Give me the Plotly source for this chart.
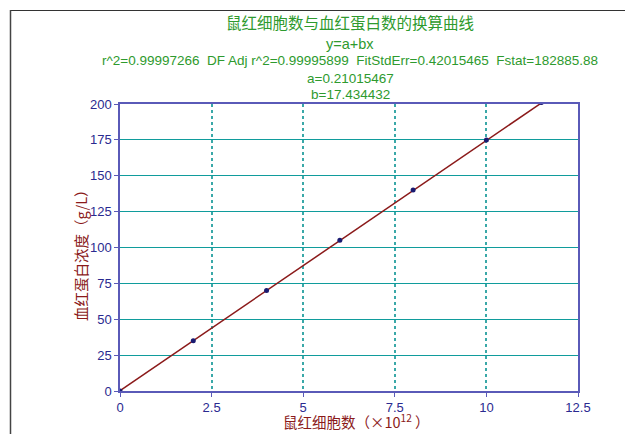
import plotly.graph_objects as go

# data
cells = [0, 2, 4, 6, 8, 10, 11.5]
hemoglobin = [0, 35, 70, 105, 140, 175, 201]
coef_a = 0.21015467
coef_b = 17.434432
fit_x = [0, 11.5]
fit_y = [coef_a + coef_b * v for v in fit_x]

title_lines = [
    "鼠红细胞数与血红蛋白数的换算曲线",
    "y=a+bx",
    "r^2=0.99997266  DF Adj r^2=0.99995899  FitStdErr=0.42015465  Fstat=182885.88",
    "a=0.21015467",
    "b=17.434432",
]
x_ticks = [0, 2.5, 5, 7.5, 10, 12.5]
x_tick_text = ["0", "2.5", "5", "7.5", "10", "12.5"]
y_ticks = [0, 25, 50, 75, 100, 125, 150, 175, 200]

OFF = 8  # page body margin
W, H = 633 - OFF, 434 - OFF
L, R, T, B = 120 - OFF, 633 - 578, 104 - OFF, 434 - 391
pw, ph = W - L - R, H - T - B

navy = "#2a2a90"
axis_col = "#5a5ab8"
teal_h = "#109c9c"
teal_v = "#3aa8a8"
red = "#8b1a1a"
green = "#2e9a2e"
font_num = "Liberation Sans, Arial, sans-serif"
font_cjk = "Noto Sans CJK SC, sans-serif"

fig = go.Figure()
fig.add_trace(go.Scatter(x=fit_x, y=fit_y, mode="lines",
                         line=dict(color=red, width=1.5), showlegend=False))
fig.add_trace(go.Scatter(x=cells, y=hemoglobin, mode="markers",
                         marker=dict(color="#1a1a70", size=5), showlegend=False))

# page pixel -> paper coordinates
def px_x(p):
    return (p - OFF - L) / pw

def px_y(p):
    return (H - B - (p - OFF)) / ph

annotations = []
title_specs = [(22, 15.5, font_cjk), (44, 14.5, font_num), (61, 13.5, font_num),
               (78, 13.5, font_num), (94, 13.5, font_num)]
for text, (yy, fs, ff) in zip(title_lines, title_specs):
    annotations.append(dict(text=text, x=px_x(350), y=px_y(yy), xref="paper", yref="paper",
                            showarrow=False, xanchor="center", yanchor="middle",
                            font=dict(color=green, size=fs, family=ff)))

annotations.append(dict(text="鼠红细胞数（×10<sup>12</sup> ）", x=px_x(356), y=px_y(420.5),
                        xref="paper", yref="paper", showarrow=False,
                        xanchor="center", yanchor="middle",
                        font=dict(color=red, size=14.5, family=font_cjk)))
annotations.append(dict(text="血红蛋白浓度（g/L）", x=px_x(80), y=px_y(252),
                        xref="paper", yref="paper", showarrow=False, textangle=-90,
                        xanchor="center", yanchor="middle",
                        font=dict(color=red, size=14.5, family=font_cjk)))

shapes = [
    dict(type="line", xref="paper", yref="paper", x0=px_x(10), x1=px_x(633), y0=px_y(10.5), y1=px_y(10.5),
         line=dict(color="#333333", width=1.2)),
    dict(type="line", xref="paper", yref="paper", x0=px_x(10.5), x1=px_x(10.5), y0=px_y(10), y1=px_y(434),
         line=dict(color="#444444", width=1.5)),
]

fig.update_layout(
    width=W, height=H,
    margin=dict(l=L, r=R, t=T, b=B),
    paper_bgcolor="white", plot_bgcolor="white",
    annotations=annotations, shapes=shapes,
    xaxis=dict(range=[0, 12.5], tickvals=x_ticks, ticktext=x_tick_text,
               showgrid=True, gridcolor=teal_v, griddash="dot", gridwidth=2,
               showline=True, linecolor=axis_col, linewidth=1.5, mirror=True,
               ticks="outside", ticklen=4, tickcolor=axis_col,
               tickfont=dict(color=navy, size=13, family=font_num), zeroline=False),
    yaxis=dict(range=[0, 200], tickvals=y_ticks,
               showgrid=True, gridcolor=teal_h, gridwidth=1,
               showline=True, linecolor=axis_col, linewidth=1.5, mirror=True,
               ticks="outside", ticklen=4, tickcolor=axis_col,
               tickfont=dict(color=navy, size=13, family=font_num), zeroline=False),
)

fig.write_html("out.html")
